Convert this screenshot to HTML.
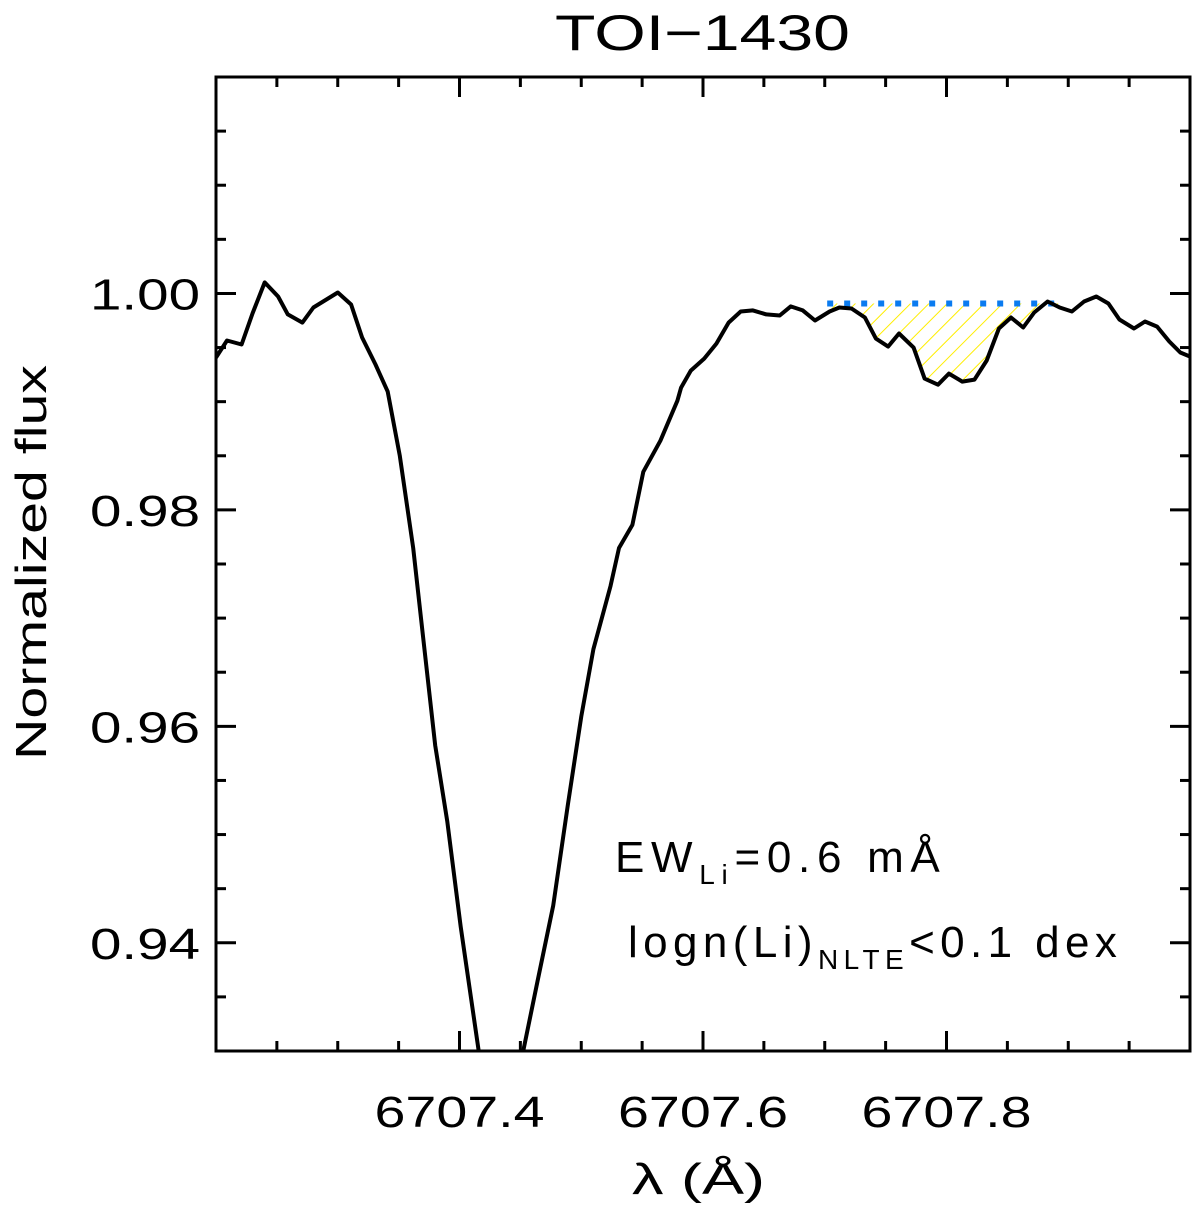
<!DOCTYPE html>
<html><head><meta charset="utf-8"><style>
html,body{margin:0;padding:0;background:#fff;}
svg text{font-family:"Liberation Sans",sans-serif;fill:#000;}
</style></head><body>
<svg id="chart" width="1200" height="1208" viewBox="0 0 1200 1208" xmlns="http://www.w3.org/2000/svg">
<defs>
<clipPath id="plotclip"><rect x="216" y="77" width="974" height="974"/></clipPath>
<pattern id="hatch" patternUnits="userSpaceOnUse" width="13" height="13" patternTransform="rotate(45)">
<line x1="0" y1="0" x2="0" y2="13" stroke="#ffee00" stroke-width="2"/>
</pattern>
</defs>
<text x="555" y="50" font-size="50" textLength="295" lengthAdjust="spacingAndGlyphs">TOI−1430</text>
<g id="hatchg" clip-path="url(#plotclip)"></g>
<g id="contg" clip-path="url(#plotclip)"></g>
<g id="lineg" clip-path="url(#plotclip)"></g>
<rect x="216" y="77" width="974" height="974" fill="none" stroke="#000" stroke-width="3"/>
<g id="ticks"></g>
<text transform="translate(46,760) rotate(-90)" font-size="44" textLength="395" lengthAdjust="spacingAndGlyphs">Normalized  flux</text>
<text x="632" y="1194" font-size="44" textLength="133" lengthAdjust="spacingAndGlyphs">λ  (Å)</text>
<text x="615" y="872" font-size="44" letter-spacing="6.7">EW<tspan font-size="28" dy="12">Li</tspan><tspan dy="-12">=0.6  mÅ</tspan></text>
<text x="628" y="957" font-size="44" letter-spacing="5.4">logn(Li)<tspan font-size="28" dy="12">NLTE</tspan><tspan dy="-12">&lt;0.1  dex</tspan></text>
</svg>
<script>
const wavelength=[6707.200,6707.209,6707.221,6707.230,6707.240,6707.251,6707.259,6707.271,6707.280,6707.300,6707.311,6707.320,6707.331,6707.341,6707.351,6707.362,6707.370,6707.380,6707.390,6707.401,6707.416,6707.434,6707.452,6707.464,6707.477,6707.489,6707.500,6707.510,6707.524,6707.531,6707.542,6707.551,6707.565,6707.579,6707.582,6707.590,6707.601,6707.611,6707.621,6707.631,6707.641,6707.652,6707.663,6707.672,6707.682,6707.692,6707.704,6707.712,6707.722,6707.733,6707.742,6707.752,6707.761,6707.773,6707.782,6707.793,6707.802,6707.813,6707.823,6707.833,6707.843,6707.853,6707.863,6707.872,6707.883,6707.893,6707.903,6707.913,6707.923,6707.933,6707.942,6707.954,6707.963,6707.973,6707.983,6707.992,6708.002];
const flux=[0.99407,0.99565,0.99528,0.99815,1.00102,0.99972,0.99806,0.99731,0.99870,1.00009,0.99898,0.99593,0.99343,0.99093,0.98500,0.97648,0.96833,0.95824,0.95120,0.94148,0.92981,0.9200,0.92981,0.93639,0.94343,0.95278,0.96093,0.96713,0.97296,0.97648,0.97861,0.98352,0.98639,0.99009,0.99130,0.99287,0.99398,0.99537,0.99731,0.99833,0.99843,0.99806,0.99796,0.99880,0.99843,0.99750,0.99833,0.99870,0.99861,0.99778,0.99583,0.99509,0.99630,0.99500,0.99213,0.99157,0.99259,0.99185,0.99204,0.99380,0.99676,0.99778,0.99685,0.99824,0.99926,0.99870,0.99833,0.99926,0.99972,0.99907,0.99759,0.99676,0.99741,0.99694,0.99556,0.99454,0.99407];
const continuumLevel=[0.99907];
const liRange=[6707.702,6707.893];
const xTickValues=[6707.4,6707.6,6707.8];
const xTickLabels=["6707.4","6707.6","6707.8"];
const yTickValues=[0.94,0.96,0.98,1.00];
const yTickLabels=["0.94","0.96","0.98","1.00"];

const X0=216,X1=1190,Y0=1051,Y1=77;
const xmin=6707.2,xmax=6708.0,ymin=0.93,ymax=1.02;
function sx(v){return X0+(v-xmin)/(xmax-xmin)*(X1-X0);}
function sy(v){return Y0-(v-ymin)/(ymax-ymin)*(Y0-Y1);}
const NS="http://www.w3.org/2000/svg";
function mk(tag,attrs,parent){const e=document.createElementNS(NS,tag);for(const k in attrs)e.setAttribute(k,attrs[k]);parent.appendChild(e);return e;}

const cy=sy(continuumLevel[0]);
let pts=[[sx(liRange[0]),cy]];
for(let i=0;i<wavelength.length;i++){if(wavelength[i]>=liRange[0]&&wavelength[i]<=liRange[1]){pts.push([sx(wavelength[i]),Math.max(sy(flux[i]),cy)]);}}
pts.push([sx(liRange[1]),cy]);
const hp=mk('polygon',{points:pts.map(p=>p.join(',')).join(' '),fill:'url(#hatch)',stroke:'none'},document.getElementById('hatchg'));



const cl=mk('line',{x1:sx(liRange[0]),x2:sx(liRange[1]),y1:cy,y2:cy,stroke:'#0a7bf0','stroke-width':6,'stroke-dasharray':'6 11'},document.getElementById('contg'));



const d=wavelength.map((w,i)=>(i?'L':'M')+sx(w).toFixed(1)+','+sy(flux[i]).toFixed(1)).join(' ');
const sp=mk('path',{d:d,fill:'none',stroke:'#000','stroke-width':4,'stroke-linejoin':'round'},document.getElementById('lineg'));



const tg=document.getElementById('ticks');
for(let v=6707.25;v<6708.0;v+=0.05){
  const vv=Math.round(v*100)/100;const major=Math.round(vv*100)%20===0;
  const L=major?20:10,x=sx(vv);
  const t1=mk('line',{x1:x,x2:x,y1:Y0,y2:Y0-L,stroke:'#000','stroke-width':3},tg);
  
  
  const t2=mk('line',{x1:x,x2:x,y1:Y1,y2:Y1+L,stroke:'#000','stroke-width':3},tg);
  
  
}
xTickValues.forEach((v,i)=>{
  const t=mk('text',{x:sx(v)-85,y:1127,'font-size':44,textLength:170,lengthAdjust:'spacingAndGlyphs'},tg);t.textContent=xTickLabels[i];
  
  
});
for(let k=1;k<18;k++){
  const v=ymin+k*0.005;const major=(k%4===2);
  const L=major?20:10,y=sy(v);
  const t1=mk('line',{x1:X0,x2:X0+L,y1:y,y2:y,stroke:'#000','stroke-width':3},tg);
  
  
  const t2=mk('line',{x1:X1,x2:X1-L,y1:y,y2:y,stroke:'#000','stroke-width':3},tg);
  
  
}
yTickValues.forEach((v,i)=>{
  const t=mk('text',{x:90,y:sy(v)+16,'font-size':44,textLength:110,lengthAdjust:'spacingAndGlyphs'},tg);t.textContent=yTickLabels[i];
  
  
});
</script>
</body></html>
